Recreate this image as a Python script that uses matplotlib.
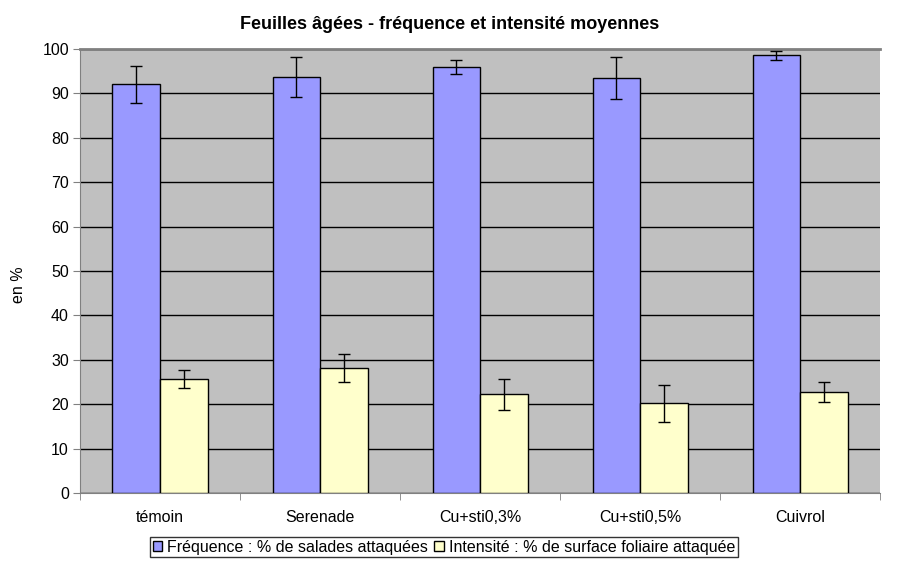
import numpy as np
import matplotlib
matplotlib.use('Agg')
from matplotlib import pyplot as plt

plt.rcParams['font.family'] = ['Liberation Sans', 'DejaVu Sans']

categories = ['témoin', 'Serenade', 'Cu+sti0,3%', 'Cu+sti0,5%', 'Cuivrol']
frequence = [92.0, 93.6, 96.0, 93.5, 98.6]
frequence_err = [4.2, 4.5, 1.6, 4.7, 1.0]
intensite = [25.6, 28.1, 22.2, 20.2, 22.7]
intensite_err = [2.0, 3.2, 3.4, 4.2, 2.2]
labels = ['Fréquence : % de salades attaquées', 'Intensité : % de surface foliaire attaquée']

fig = plt.figure(figsize=(9, 5.68), dpi=100)
ax = fig.add_axes([0.0889, 0.132, 0.889, 0.782])
ax.set_facecolor('#C0C0C0')

x = np.arange(len(categories))
w = 0.297
ekw = dict(ecolor='black', elinewidth=1, capsize=4, capthick=1)
ax.bar(x - w/2, frequence, w, yerr=frequence_err, color='#9999FF', edgecolor='black',
       linewidth=1, label=labels[0], error_kw=ekw, zorder=3)
ax.bar(x + w/2, intensite, w, yerr=intensite_err, color='#FFFFCC', edgecolor='black',
       linewidth=1, label=labels[1], error_kw=ekw, zorder=3)

ax.set_xlim(-0.5, len(categories) - 0.5)
ax.set_ylim(0, 100)
ax.set_yticks(range(0, 101, 10))
ax.yaxis.grid(True, color='black', linewidth=1)
ax.set_axisbelow(True)
ax.set_xticks(x)
ax.set_xticklabels(categories, fontsize=11.5)
ax.tick_params(axis='x', length=0, pad=12)
ax.set_xticks(np.arange(len(categories) + 1) - 0.5, minor=True)
ax.tick_params(axis='x', which='minor', length=5, color='#808080')
ax.tick_params(axis='y', labelsize=11.5, length=5, color='#808080', pad=3)
for s in ['left', 'bottom', 'top']:
    ax.spines[s].set_color('#808080')
ax.spines['right'].set_visible(False)
ax.spines['top'].set_linewidth(2)

ax.set_ylabel('en %', fontsize=11.5)
ax.yaxis.set_label_coords(-0.068, 0.47)
ax.set_title('Feuilles âgées - fréquence et intensité moyennes', fontsize=13,
             fontweight='bold', pad=14, x=0.4625)

leg = ax.legend(loc='upper center', bbox_to_anchor=(0.455, -0.1), ncol=2, fontsize=11.5,
                frameon=True, fancybox=False, handlelength=0.6, handleheight=0.6,
                handletextpad=0.3, columnspacing=0.4, borderpad=0.15, borderaxespad=0)
leg.get_frame().set_edgecolor('black')
leg.get_frame().set_linewidth(1)

fig.savefig('out.png', dpi=100)
